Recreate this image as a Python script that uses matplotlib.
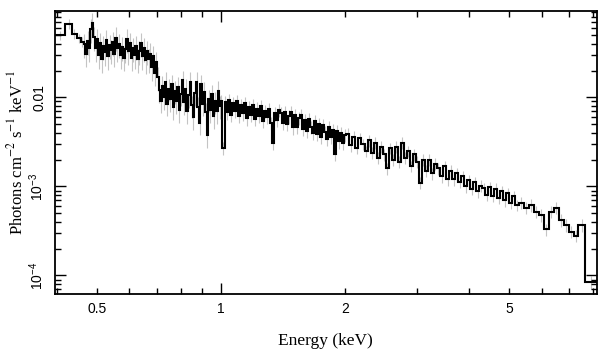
import matplotlib
matplotlib.use("Agg")
import matplotlib.pyplot as plt
import numpy as np
from matplotlib.ticker import FixedLocator, FixedFormatter, FuncFormatter, NullFormatter

plt.rcParams["font.family"] = ["Liberation Sans", "DejaVu Sans"]
plt.rcParams["mathtext.fontset"] = "stix"

# Spectrum bins: lower energy edge (keV) and flux (photons/cm2/s/keV), by band
lo_a = [0.395, 0.420, 0.435, 0.447, 0.457]
flux_a = [0.050, 0.067, 0.052, 0.046, 0.042]

lo_b = [0.465, 0.469, 0.473, 0.477, 0.482, 0.486, 0.490, 0.495, 0.499, 0.503,
        0.508, 0.512, 0.517, 0.521, 0.526, 0.530, 0.535, 0.540, 0.545, 0.549,
        0.554, 0.559, 0.564, 0.569, 0.574, 0.579, 0.584, 0.589, 0.594, 0.599,
        0.605, 0.610, 0.615, 0.621, 0.626, 0.632, 0.637, 0.643, 0.648, 0.654,
        0.660, 0.666, 0.671, 0.677, 0.683, 0.689, 0.695, 0.701]
flux_b = [0.040, 0.031, 0.043, 0.036, 0.058, 0.068, 0.048, 0.036, 0.045, 0.030,
          0.041, 0.027, 0.038, 0.032, 0.044, 0.029, 0.039, 0.034, 0.042, 0.031,
          0.047, 0.036, 0.040, 0.030, 0.037, 0.028, 0.035, 0.045, 0.033, 0.041,
          0.028, 0.036, 0.030, 0.038, 0.027, 0.033, 0.041, 0.029, 0.036, 0.026,
          0.033, 0.027, 0.031, 0.022, 0.029, 0.019, 0.025, 0.017]

lo_c = [0.707, 0.713, 0.719, 0.725, 0.732, 0.738, 0.744, 0.751, 0.757, 0.764,
        0.770, 0.777, 0.784, 0.791, 0.797, 0.804, 0.811, 0.818, 0.825, 0.833,
        0.840, 0.847, 0.855, 0.862, 0.870, 0.877, 0.885, 0.892, 0.900, 0.908,
        0.916, 0.924, 0.932, 0.940, 0.948, 0.957, 0.965, 0.973, 0.982, 0.990]
flux_c = [0.0120, 0.0092, 0.0135, 0.0100, 0.0150, 0.0085, 0.0125, 0.0095, 0.0140, 0.0078,
          0.0118, 0.0090, 0.0132, 0.0072, 0.0110, 0.0155, 0.0088, 0.0125, 0.0070, 0.0105,
          0.0150, 0.0082, 0.0060, 0.0112, 0.0150, 0.0078, 0.0052, 0.0140, 0.0085, 0.0115,
          0.0068, 0.0038, 0.0095, 0.0072, 0.0108, 0.0062, 0.0090, 0.0070, 0.0118, 0.0080]

lo_d = [0.998, 1.009, 1.021, 1.032, 1.044, 1.055, 1.067, 1.079, 1.091, 1.103,
        1.116, 1.128, 1.141, 1.154, 1.167, 1.180, 1.193, 1.207, 1.220, 1.234,
        1.248, 1.262, 1.276, 1.290, 1.305, 1.319, 1.334, 1.349, 1.364, 1.380,
        1.395, 1.411, 1.427, 1.443, 1.459, 1.475, 1.492, 1.509, 1.526, 1.543,
        1.560, 1.578, 1.595, 1.613, 1.631, 1.650, 1.668, 1.687, 1.706, 1.725,
        1.744, 1.764, 1.784, 1.804, 1.824, 1.845, 1.865, 1.886, 1.907, 1.929,
        1.950, 1.972, 1.994]
flux_d = [0.0092, 0.0027, 0.0088, 0.0068, 0.0094, 0.0064, 0.0086, 0.0070, 0.0090, 0.0062,
          0.0082, 0.0066, 0.0087, 0.0058, 0.0078, 0.0064, 0.0083, 0.0057, 0.0075, 0.0062,
          0.0080, 0.0055, 0.0071, 0.0060, 0.0074, 0.0052, 0.0031, 0.0066, 0.0056, 0.0072,
          0.0066, 0.0052, 0.0069, 0.0050, 0.0061, 0.0068, 0.0046, 0.0063, 0.0047, 0.0059,
          0.0064, 0.0044, 0.0056, 0.0042, 0.0057, 0.0047, 0.0040, 0.0054, 0.0039, 0.0050,
          0.0036, 0.0049, 0.0041, 0.0034, 0.0046, 0.0036, 0.0043, 0.0023, 0.0042, 0.0032,
          0.0040, 0.0031, 0.0038]

lo_e = [2.017, 2.051, 2.086, 2.122, 2.158, 2.194, 2.232, 2.270, 2.308, 2.348,
        2.388, 2.428, 2.470, 2.512, 2.554, 2.598, 2.642, 2.687, 2.733, 2.779,
        2.826, 2.874, 2.923, 2.973, 3.024, 3.075, 3.127, 3.181, 3.235, 3.290,
        3.346, 3.403, 3.461, 3.519, 3.579, 3.640, 3.702, 3.765, 3.829, 3.894,
        3.960, 4.028, 4.096, 4.166, 4.237, 4.309, 4.382, 4.457, 4.533, 4.610,
        4.688, 4.768, 4.849, 4.932, 5.016, 5.101, 5.188]
flux_e = [0.0039, 0.0029, 0.0036, 0.0027, 0.0035, 0.0030, 0.0025, 0.0033, 0.0024, 0.0031,
          0.0021, 0.0028, 0.0023, 0.0016, 0.0027, 0.0020, 0.0028, 0.0019, 0.0031, 0.0021,
          0.0025, 0.0017, 0.0023, 0.0019, 0.0011, 0.0020, 0.0015, 0.0020, 0.0014, 0.0018,
          0.0016, 0.0013, 0.0017, 0.0012, 0.0015, 0.0012, 0.00140, 0.00112, 0.00130, 0.00100,
          0.00118, 0.00094, 0.00112, 0.00088, 0.00102, 0.00095, 0.00080, 0.00098, 0.00078, 0.00094,
          0.00074, 0.00088, 0.00070, 0.00084, 0.00066, 0.00078, 0.00062]

lo_f = [5.276, 5.426, 5.580, 5.738, 5.901, 6.068, 6.240, 6.417, 6.600, 6.787,
        6.980, 7.18, 7.36, 7.65]
flux_f = [0.00066, 0.00058, 0.00062, 0.00052, 0.00048, 0.00033, 0.00052, 0.00058, 0.00042, 0.00037,
          0.00031, 0.00028, 0.00037, 0.000085]
e_max = 8.18

# relative 1-sigma error per band
band_err = [0.12, 0.30, 0.28, 0.17, 0.15, 0.16]

bands_lo = [lo_a, lo_b, lo_c, lo_d, lo_e, lo_f]
bands_flux = [flux_a, flux_b, flux_c, flux_d, flux_e, flux_f]

edges = np.array(sum(bands_lo, []) + [e_max])
flux = np.array(sum(bands_flux, []))
rel = np.concatenate([[r] * len(f) for r, f in zip(band_err, bands_flux)])
err = flux * rel
centers = np.sqrt(edges[:-1] * edges[1:])

fig = plt.figure(figsize=(6.09, 3.57), dpi=100)
ax = fig.add_axes([0.0895, 0.1765, 0.8908, 0.7935])

ax.errorbar(centers, flux, yerr=err, fmt="none", ecolor="#c4c4c4",
            elinewidth=0.8, zorder=1)
ax.stairs(flux, edges, color="black", linewidth=1.5, baseline=None, zorder=2)

ax.set_xscale("log")
ax.set_yscale("log")
ax.set_xlim(0.395, e_max)
ax.set_ylim(6.2e-5, 0.094)

# x ticks: major only at 1, labelled minors at 0.5, 2, 5
ax.xaxis.set_major_locator(FixedLocator([1.0]))
ax.xaxis.set_major_formatter(FixedFormatter(["1"]))
ax.xaxis.set_minor_locator(FixedLocator([0.4, 0.5, 0.6, 0.7, 0.8, 0.9, 2, 3, 4, 5, 6, 7, 8]))
minor_labels = {0.5: "0.5", 2.0: "2", 5.0: "5"}
ax.xaxis.set_minor_formatter(FuncFormatter(lambda v, pos: minor_labels.get(round(v, 3), "")))

ax.yaxis.set_major_locator(FixedLocator([1e-4, 1e-3, 1e-2]))
ax.yaxis.set_major_formatter(FixedFormatter([r"$\mathregular{10^{-4}}$",
                                             r"$\mathregular{10^{-3}}$", "0.01"]))
ymin = [m * 10.0 ** p for p in (-5, -4, -3, -2) for m in range(2, 10)]
ax.yaxis.set_minor_locator(FixedLocator(ymin))
ax.yaxis.set_minor_formatter(NullFormatter())

ax.tick_params(which="both", direction="in", top=True, right=True,
               labelsize=10, width=1.0, colors="black")
ax.tick_params(which="major", length=8, pad=6)
ax.tick_params(which="minor", length=4, pad=6)
for lab in ax.get_yticklabels():
    lab.set_rotation(90)
    lab.set_va("center")

for s in ax.spines.values():
    s.set_linewidth(1.3)

ax.set_xlabel("Energy (keV)", fontfamily="Liberation Serif", fontsize=12.5, labelpad=12)
ax.set_ylabel(r"Photons cm$^{-2}$ s$^{-1}$ keV$^{-1}$", fontfamily="Liberation Serif",
              fontsize=12, labelpad=1)

fig.savefig("out.png", dpi=100)
